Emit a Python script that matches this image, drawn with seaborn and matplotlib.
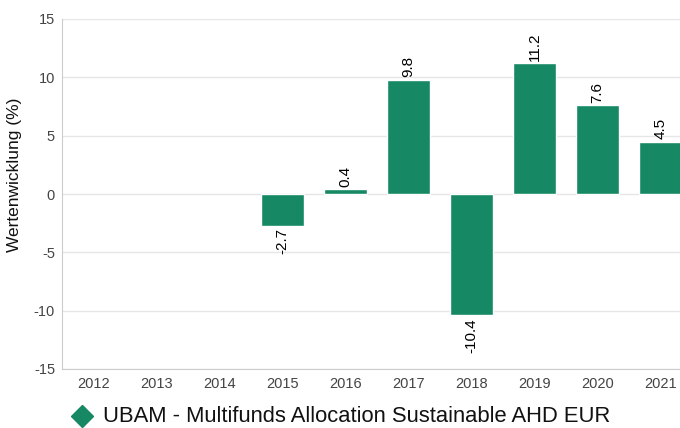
import matplotlib
matplotlib.use("Agg")
import matplotlib.pyplot as plt
from matplotlib.lines import Line2D
import seaborn as sns
import numpy as np
import pandas as pd

years = ["2012", "2013", "2014", "2015", "2016", "2017", "2018", "2019", "2020", "2021"]
values = [np.nan, np.nan, np.nan, -2.7, 0.4, 9.8, -10.4, 11.2, 7.6, 4.5]
series_name = "UBAM - Multifunds Allocation Sustainable AHD EUR"
ylabel = "Wertenwicklung (%)"
yticks = [-15, -10, -5, 0, 5, 10, 15]

sns.set_style("white")
plt.rcParams['font.family'] = ['Liberation Sans', 'DejaVu Sans']

color = "#168864"
df = pd.DataFrame({"year": years, "value": values})

fig = plt.figure(figsize=(6.8, 4.28), dpi=100)
ax = fig.add_axes([62/680, 59/428, 630/680, 350/428])

sns.barplot(data=df, x="year", y="value", order=years, color=color,
            width=0.69, saturation=1, ax=ax, zorder=3)

ax.set_ylim(-15, 15)
ax.set_xlim(-0.5, len(years) - 0.5)
ax.set_yticks(yticks)
ax.set_yticklabels([str(t) for t in yticks])
ax.grid(axis="y", color="#e6e6e6", linewidth=1, zorder=0)
ax.set_axisbelow(True)
for s in ["top", "right"]:
    ax.spines[s].set_visible(False)
ax.spines["left"].set_color("#cccccc")
ax.spines["bottom"].set_color("#cccccc")
ax.tick_params(axis="y", length=0, labelsize=10.5, labelcolor="#444444", pad=5)
ax.tick_params(axis="x", length=0, labelsize=10.5, labelcolor="#444444", pad=6)
ax.set_xlabel("")
ax.set_ylabel(ylabel, fontsize=12.5, color="#111111")
ax.yaxis.set_label_coords(-0.063, 0.555)

for i, v in enumerate(values):
    if np.isnan(v):
        continue
    if v >= 0:
        ax.annotate(f"{v:.1f}", (i, v), xytext=(0, 2), textcoords="offset points",
                    rotation=90, ha="center", va="bottom", fontsize=11, color="#000000")
    else:
        ax.annotate(f"{v:.1f}", (i, v), xytext=(0, -2), textcoords="offset points",
                    rotation=90, ha="center", va="top", fontsize=11, color="#000000")

fig.add_artist(Line2D([82/680], [1 - 416/428], marker="D", markersize=11,
                      color=color, linestyle="none", transform=fig.transFigure))
fig.text(103/680, 1 - 417/428, series_name, color="#111111", fontsize=15.8, ha="left", va="center")

fig.savefig("out.png", dpi=100)
